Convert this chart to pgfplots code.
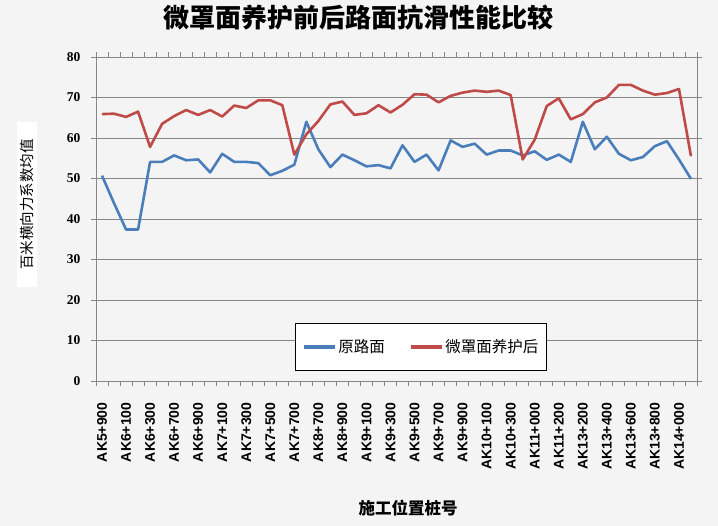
\documentclass[border=0pt]{standalone}
\usepackage{pgfplots}
\pgfplotsset{compat=1.18}
\usepackage{fontspec}
\setmainfont{Liberation Sans}
\newfontfamily\cjk{Noto Sans CJK SC}
\newfontfamily\tnr{Liberation Serif}
\definecolor{bgc}{HTML}{F4F4F4}
\definecolor{gridc}{HTML}{868686}
\definecolor{sblue}{HTML}{4A7EBB}
\definecolor{sred}{HTML}{BE4B48}
\begin{document}
\begin{tikzpicture}[x=1pt,y=1pt]
\fill[bgc] (0,0) rectangle (718,526);
\begin{axis}[
  at={(96pt,145pt)}, anchor=south west,
  width=601pt, height=324pt, scale only axis,
  xmin=-0.5, xmax=49.5, ymin=0, ymax=80,
  xtick={0,2,...,48},
  xticklabels={AK5+900,AK6+100,AK6+300,AK6+700,AK6+900,AK7+100,AK7+300,AK7+500,AK7+700,AK8+700,AK8+900,AK9+100,AK9+300,AK9+500,AK9+700,AK9+900,AK10+100,AK10+300,AK11+000,AK11+200,AK13+200,AK13+400,AK13+600,AK13+800,AK14+000},
  minor xtick={-0.5,0.5,...,49.5},
  major x tick style={draw=none},
  minor tick length=5pt, major tick length=5pt,
  tick align=outside,
  ytick={0,10,...,80},
  ymajorgrids,
  grid style={gridc, line width=0.9pt},
  axis line style={gridc, line width=0.9pt},
  tick style={gridc, line width=0.9pt},
  x tick label style={rotate=90, anchor=east, font=\fontsize{14}{14}\selectfont\bfseries},
  xticklabel shift=13pt,
  /pgf/number format/assume math mode=true,
  y tick label style={font=\fontsize{13.5}{13.5}\selectfont\tnr\bfseries},
  yticklabel shift=7pt,
  legend columns=2,
  legend style={at={(0.541,0.105)}, anchor=center, draw=black, fill=white, line width=0.9pt,
    font=\fontsize{15.5}{15.5}\selectfont\cjk, inner xsep=6pt, inner ysep=14pt,
    /tikz/every even column/.append style={column sep=22pt}},
  legend image code/.code={\draw[#1, line width=3.5pt] (0pt,0pt) -- (31pt,0pt);},
]
\addplot[sblue, line width=2.6pt, line join=round] coordinates {
(0,50.7)(1,43.9)(2,37.4)(3,37.4)(4,54.1)(5,54.1)(6,55.7)(7,54.5)(8,54.7)(9,51.5)
(10,56.1)(11,54.1)(12,54.1)(13,53.8)(14,50.8)(15,51.9)(16,53.4)(17,64.0)(18,57.2)(19,52.8)
(20,55.9)(21,54.5)(22,53.0)(23,53.3)(24,52.5)(25,58.2)(26,54.1)(27,55.9)(28,52.0)(29,59.4)
(30,57.8)(31,58.6)(32,55.9)(33,56.9)(34,56.9)(35,55.7)(36,56.7)(37,54.6)(38,55.9)(39,54.1)
(40,64.0)(41,57.2)(42,60.3)(43,56.1)(44,54.5)(45,55.3)(46,58.0)(47,59.2)(48,54.7)(49,49.9)
};
\addlegendentry{原路面}
\addplot[sred, line width=2.6pt, line join=round] coordinates {
(0,65.9)(1,66.0)(2,65.2)(3,66.5)(4,57.8)(5,63.5)(6,65.4)(7,66.9)(8,65.7)(9,66.9)
(10,65.3)(11,68.0)(12,67.4)(13,69.3)(14,69.3)(15,68.1)(16,55.9)(17,60.9)(18,64.2)(19,68.3)
(20,69.0)(21,65.7)(22,66.1)(23,68.1)(24,66.3)(25,68.2)(26,70.8)(27,70.7)(28,68.8)(29,70.4)
(30,71.2)(31,71.7)(32,71.4)(33,71.7)(34,70.6)(35,54.7)(36,59.6)(37,67.9)(38,69.8)(39,64.6)
(40,65.9)(41,68.8)(42,70.0)(43,73.1)(44,73.1)(45,71.7)(46,70.7)(47,71.1)(48,72.1)(49,55.5)
};
\addlegendentry{微罩面养护后}
\end{axis}
\node at (358,508) {\fontsize{26}{26}\selectfont\cjk\bfseries 微罩面养护前后路面抗滑性能比较};
\node[fill=white, rotate=90, minimum width=165pt, minimum height=20pt, inner sep=0pt] at (27,321.5) {\fontsize{14.5}{14.5}\selectfont\cjk 百米横向力系数均值};
\node at (408,18) {\fontsize{16.5}{16.5}\selectfont\cjk\bfseries 施工位置桩号};
\end{tikzpicture}
\end{document}
